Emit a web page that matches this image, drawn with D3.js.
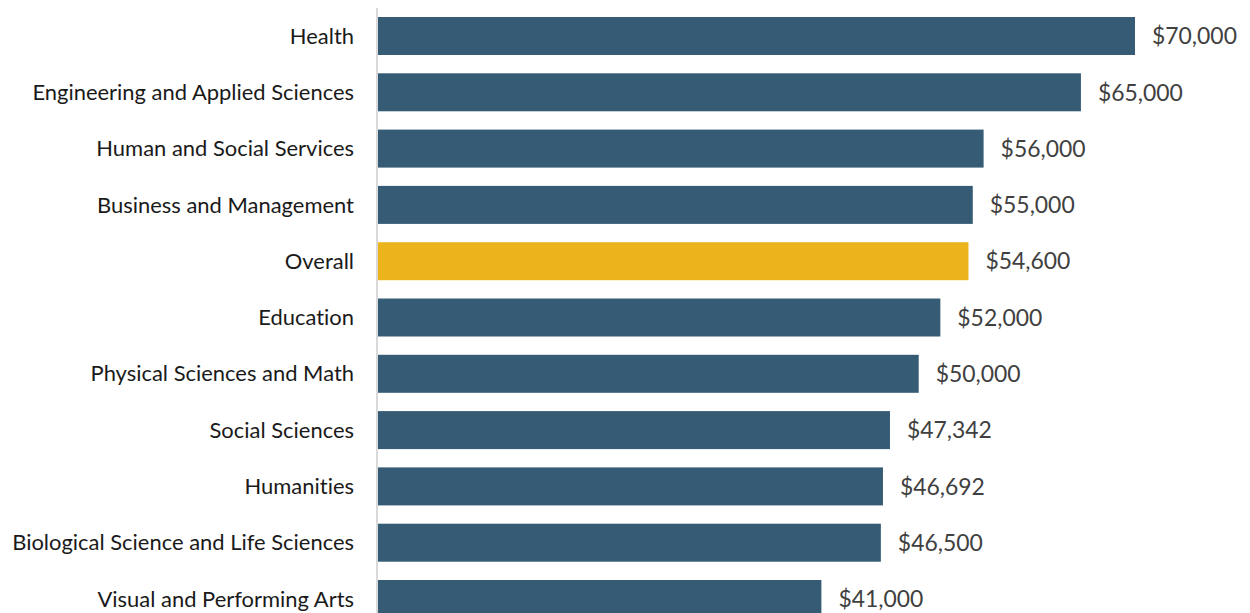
<!DOCTYPE html>
<html>
<head>
<meta charset="utf-8">
<script src="https://cdn.jsdelivr.net/npm/d3@7"></script>
<style>
html,body{margin:0;padding:0;background:#fff;}
svg{display:block;}
text{font-family:Lato,"Open Sans",sans-serif;font-variant-ligatures:none;font-feature-settings:"liga" 0,"clig" 0;}
</style>
</head>
<body>
<svg id="chart" width="1250" height="613"></svg>
<script>
const categories = ["Health","Engineering and Applied Sciences","Human and Social Services","Business and Management","Overall","Education","Physical Sciences and Math","Social Sciences","Humanities","Biological Science and Life Sciences","Visual and Performing Arts"];
const salaries = [70000,65000,56000,55000,54600,52000,50000,47342,46692,46500,41000];
const highlight = ["Overall"];

const svg = d3.select("#chart");
const x0 = 378;
const x = d3.scaleLinear().domain([0,70000]).range([x0,1135]);
const y = d3.scaleBand().domain(categories).range([7.85,627.15]).paddingInner(0.325).paddingOuter(0.1625);

// bars
svg.append("g").selectAll("rect").data(categories).join("rect")
  .attr("x", x(0))
  .attr("y", d=>y(d))
  .attr("width", (d,i)=>x(salaries[i])-x(0))
  .attr("height", y.bandwidth())
  .attr("fill", d=>highlight.includes(d)?"#ebb31c":"#365c75");

// axis line
svg.append("line").attr("x1",x0-1).attr("x2",x0-1).attr("y1",8).attr("y2",613)
  .attr("stroke","#d9d9d9").attr("stroke-width",2);

// category labels
const cat = svg.append("g").selectAll("text").data(categories).join("text")
  .attr("x", 354)
  .attr("y", d=>y(d)+y.bandwidth()/2)
  .attr("dy","0.35em")
  .attr("text-anchor","end")
  .attr("fill","#1a1a1a")
  .style("font-size","20px")
  .text(d=>d);
let maxW = 0; cat.each(function(){maxW=Math.max(maxW,this.getComputedTextLength());});
cat.style("font-size", (20*342/maxW)+"px");

// value labels
const fmt = d3.format("$,");
const val = svg.append("g").selectAll("text").data(categories).join("text")
  .attr("x", (d,i)=>x(salaries[i])+17)
  .attr("y", d=>y(d)+y.bandwidth()/2)
  .attr("dy","0.36em")
  .attr("fill","#404040")
  .style("font-size","24px")
  .text((d,i)=>fmt(salaries[i]));
let w0 = val.nodes()[0].getComputedTextLength();
val.style("font-size", (24*85/w0)+"px");
</script>
</body>
</html>
